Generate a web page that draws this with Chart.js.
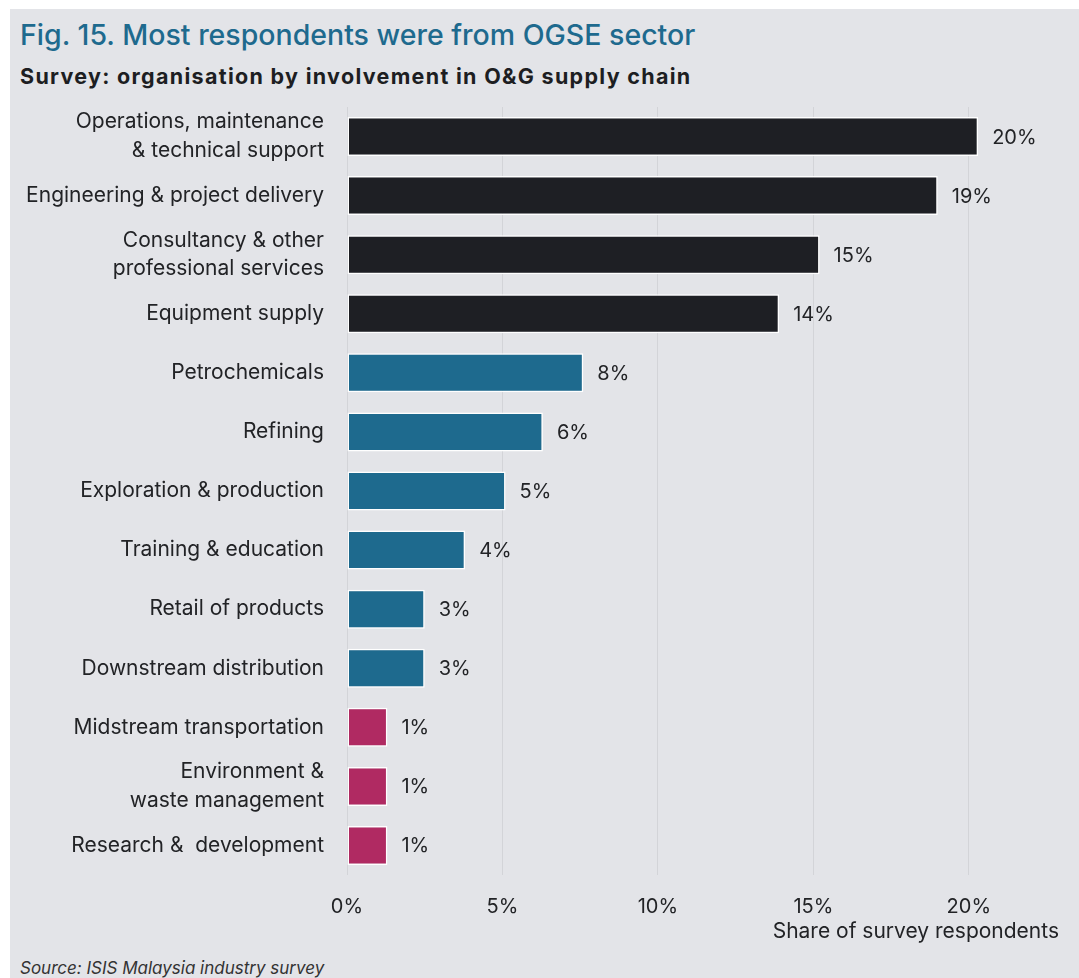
<!DOCTYPE html>
<html>
<head>
<meta charset="utf-8">
<script src="https://cdn.jsdelivr.net/npm/chart.js@4.4.1/dist/chart.umd.min.js"></script>
<style>
  html, body { margin: 0; padding: 0; background: #ffffff; }
  body { width: 1079px; height: 978px; position: relative; overflow: hidden; font-family: Inter, Roboto, sans-serif; }
  .panel { position: absolute; left: 10px; top: 9px; width: 1069px; height: 969px; background: #e3e4e8; }
  .title { position: absolute; left: 10px; top: 8px; margin: 0; font-size: 28.5px; font-weight: 500; color: #1e6a8e; white-space: nowrap; }
  .subtitle { position: absolute; left: 10px; top: 54px; margin: 0; font-size: 21.5px; letter-spacing: 1.3px; font-weight: 700; color: #1d1e22; white-space: nowrap; }
  .source { position: absolute; left: 10px; top: 949px; font-size: 17px; font-style: italic; color: #333; white-space: nowrap; }
  .chart-box { position: absolute; left: 0; top: 95px; width: 1069px; height: 850px; }
</style>
</head>
<body>
<div class="panel">
  <h1 class="title">Fig. 15. Most respondents were from OGSE sector</h1>
  <h2 class="subtitle">Survey: organisation by involvement in O&amp;G supply chain</h2>
  <div class="chart-box"><canvas id="involvementChart"></canvas></div>
  <div class="source">Source: ISIS Malaysia industry survey</div>
</div>

<script>
// ---- data ----
const categories = [
  ['Operations, maintenance', '& technical support'],
  'Engineering & project delivery',
  ['Consultancy & other', 'professional services'],
  'Equipment supply',
  'Petrochemicals',
  'Refining',
  'Exploration & production',
  'Training & education',
  'Retail of products',
  'Downstream distribution',
  'Midstream transportation',
  ['Environment &', 'waste management'],
  'Research &  development'
];
// share of respondents, %
const shares = [20.3, 19.0, 15.2, 13.9, 7.6, 6.3, 5.1, 3.8, 2.5, 2.5, 1.3, 1.3, 1.3];
const groups = ['ogse', 'ogse', 'ogse', 'ogse', 'core', 'core', 'core', 'core', 'core', 'core', 'other', 'other', 'other'];
const xTicks = [0, 5, 10, 15, 20];

const groupColors = { ogse: '#1e1f24', core: '#1e6a8e', other: '#b02a62' };
const TEXT = '#222326';
const FONT = 'Inter, Roboto, sans-serif';

// value labels at the end of each bar
const barValueLabels = {
  id: 'barValueLabels',
  afterDatasetsDraw(chart) {
    const ctx = chart.ctx;
    const meta = chart.getDatasetMeta(0);
    ctx.save();
    ctx.font = '20px ' + FONT;
    ctx.fillStyle = TEXT;
    ctx.textAlign = 'left';
    ctx.textBaseline = 'middle';
    meta.data.forEach((bar, i) => {
      ctx.fillText(Math.round(shares[i]) + '%', bar.x + 14, bar.y + 1);
    });
    ctx.restore();
  }
};

const chart = new Chart(document.getElementById('involvementChart'), {
  type: 'bar',
  data: {
    labels: categories,
    datasets: [{
      data: shares,
      backgroundColor: groups.map(g => groupColors[g]),
      borderColor: '#ffffff',
      borderWidth: 1.5,
      borderSkipped: false,
      categoryPercentage: 0.66,
      barPercentage: 1
    }]
  },
  options: {
    indexAxis: 'y',
    responsive: true,
    maintainAspectRatio: false,
    animation: false,
    layout: { padding: { top: 3, right: 20, bottom: 10, left: 0 } },
    plugins: {
      legend: { display: false },
      tooltip: { enabled: false }
    },
    scales: {
      x: {
        min: 0,
        max: 22.9,
        afterBuildTicks: scale => { scale.ticks = xTicks.map(v => ({ value: v })); },
        afterFit: scale => { scale.height = 69; },
        grid: { color: '#d3d4d8', lineWidth: 1, drawTicks: false },
        border: { display: false },
        ticks: {
          padding: 20,
          color: TEXT,
          font: { family: FONT, size: 20 },
          callback: v => v + '%'
        },
        title: {
          display: true,
          text: 'Share of survey respondents',
          align: 'end',
          color: TEXT,
          font: { family: FONT, size: 21 },
          padding: { top: 0, bottom: 0 }
        }
      },
      y: {
        afterFit: scale => {
          scale.width = 337;
          scale.paddingTop = 0;
          scale.paddingBottom = 0;
        },
        grid: { display: false, drawTicks: false },
        border: { display: false },
        ticks: {
          autoSkip: false,
          padding: 23,
          color: TEXT,
          font: { family: FONT, size: 21, lineHeight: 1.38 }
        }
      }
    }
  },
  plugins: [barValueLabels]
});
</script>
</body>
</html>
